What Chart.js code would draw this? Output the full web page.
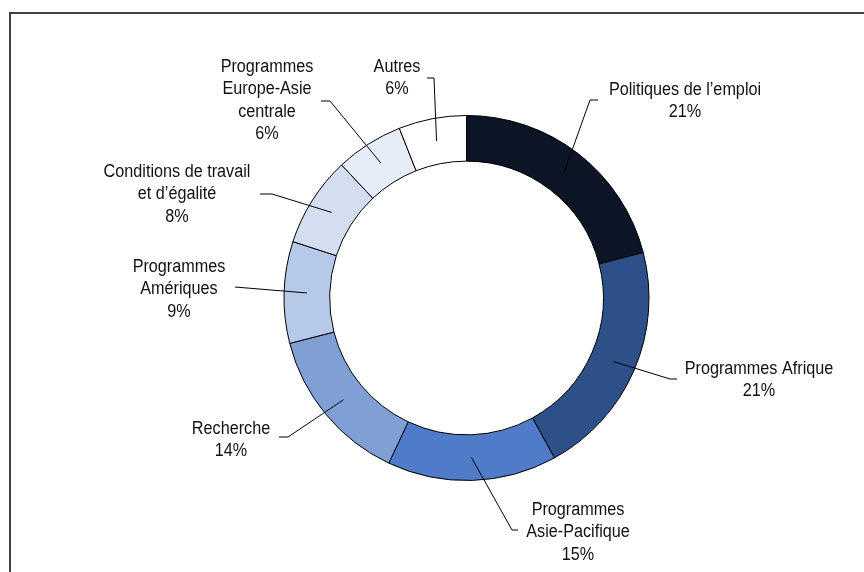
<!DOCTYPE html>
<html>
<head>
<meta charset="utf-8">
<script src="https://cdn.jsdelivr.net/npm/chart.js@4/dist/chart.umd.min.js"></script>
<style>
  body { margin: 0; background: #fff; }
  #wrap { width: 864px; height: 572px; position: relative; }
</style>
</head>
<body>
<div id="wrap"><canvas id="myChart"></canvas></div>
<script>
// data
const categories = [
    "Politiques de l\u2019emploi",
    "Programmes Afrique",
    "Programmes Asie-Pacifique",
    "Recherche",
    "Programmes Am\u00e9riques",
    "Conditions de travail et d\u2019\u00e9galit\u00e9",
    "Programmes Europe-Asie centrale",
    "Autres"
]
const shares = [21, 21, 15, 14, 9, 8, 6, 6]

// how each label is broken into lines (text only)
const labelLines = [
    ["Politiques de l\u2019emploi"],
    ["Programmes Afrique"],
    ["Programmes", "Asie-Pacifique"],
    ["Recherche"],
    ["Programmes", "Am\u00e9riques"],
    ["Conditions de travail", "et d\u2019\u00e9galit\u00e9"],
    ["Programmes", "Europe-Asie", "centrale"],
    ["Autres"]
]

const colors = ['#0b1526', '#2e5089', '#4f7bc8', '#7f9fd5', '#b7c9e9', '#d3def1', '#e6edf8', '#ffffff']

// where the labels sit: text centre x, first line y, leader elbow, leader end
const labelLayout = [
    {x: 685, y: 90,  bx: 590, by: 100, ex: 598},
    {x: 759, y: 369, bx: 670, by: 379, ex: 677},
    {x: 578, y: 510, bx: 512, by: 530, ex: 518},
    {x: 231, y: 429, bx: 288, by: 437, ex: 279},
    {x: 179, y: 267, bx: 235, by: 287, ex: 235},
    {x: 177, y: 172, bx: 272, by: 194, ex: 260},
    {x: 267, y: 67,  bx: 330, by: 101, ex: 321},
    {x: 397, y: 67,  bx: 434, by: 78,  ex: 427}
]

const lineH = 22.5

// frame round the chart (only top and left are inside the picture)
const framePlugin = {
    id: 'frame',
    beforeDraw(chart) {
        const c = chart.ctx
        c.save()
        c.fillStyle = '#404040'
        c.fillRect(9, 12, chart.width, 2)
        c.fillRect(9, 12, 2, chart.height)
        c.restore()
    }
}

// labels with leader lines
const labelPlugin = {
    id: 'outLabels',
    afterDatasetsDraw(chart) {
        const c = chart.ctx
        const arcs = chart.getDatasetMeta(0).data
        c.save()
        arcs.forEach((arc, i) => {
            const p = arc.tooltipPosition()
            const l = labelLayout[i]
            c.strokeStyle = '#000'
            c.lineWidth = 1
            c.beginPath()
            c.moveTo(p.x, p.y)
            c.lineTo(l.bx, l.by)
            c.lineTo(l.ex, l.by)
            c.stroke()

            const lines = labelLines[i].concat([shares[i] + '%'])
            c.fillStyle = '#111'
            c.font = '18px "Liberation Sans", Arial, sans-serif'
            c.textAlign = 'center'
            c.textBaseline = 'middle'
            lines.forEach((t, k) => {
                c.save()
                c.translate(l.x, l.y + k * lineH)
                c.scale(0.9, 1)
                c.fillText(t, 0, 0)
                c.restore()
            })
        })
        c.restore()
    }
}

const ctx = document.getElementById('myChart')
const chart = new Chart(ctx, {
    type: 'doughnut',
    data: {
        labels: categories,
        datasets: [{
            data: shares,
            backgroundColor: colors,
            borderColor: '#000',
            borderWidth: 1
        }]
    },
    options: {
        responsive: true,
        maintainAspectRatio: false,
        animation: false,
        cutout: '75%',
        layout: {
            padding: {left: 283, right: 214, top: 115, bottom: 91}
        },
        plugins: {
            legend: {display: false},
            tooltip: {enabled: false}
        }
    },
    plugins: [framePlugin, labelPlugin]
});
</script>
</body>
</html>
